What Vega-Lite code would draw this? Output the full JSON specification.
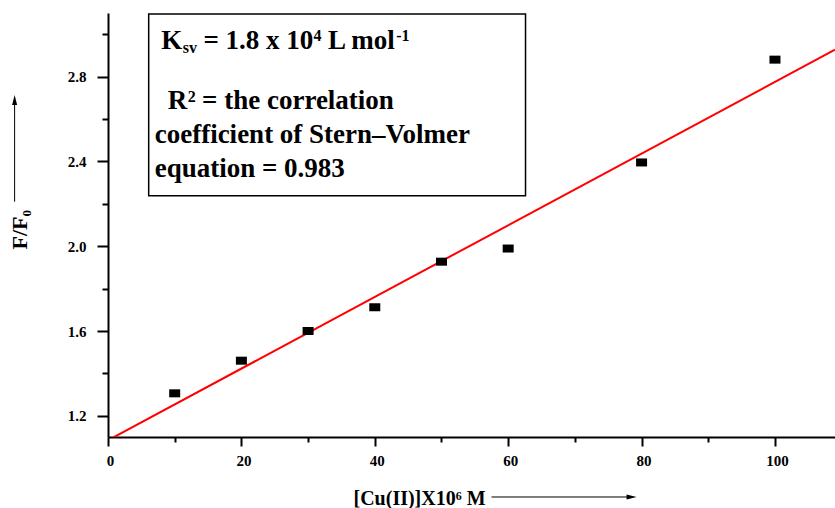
{
  "$schema": "https://vega.github.io/schema/vega-lite/v6.json",
  "width": 727,
  "height": 424,
  "autosize": {"type": "none"},
  "padding": {"left": 108, "top": 13, "right": 0, "bottom": 71},
  "background": "white",
  "config": {"view": {"stroke": null}, "font": "Liberation Serif"},
  "datasets": {
    "quench": [
      {"conc": 10, "ratio": 1.306},
      {"conc": 20, "ratio": 1.46},
      {"conc": 30, "ratio": 1.6},
      {"conc": 40, "ratio": 1.712},
      {"conc": 50, "ratio": 1.927},
      {"conc": 60, "ratio": 1.989},
      {"conc": 80, "ratio": 2.395},
      {"conc": 100, "ratio": 2.88}
    ]
  },
  "layer": [
    {
      "data": {"name": "quench"},
      "transform": [{"regression": "ratio", "on": "conc", "extent": [0, 109]}],
      "mark": {"type": "line", "color": "#ff0000", "strokeWidth": 2, "clip": true},
      "encoding": {
        "x": {
          "field": "conc", "type": "quantitative",
          "scale": {"domain": [0, 109], "nice": false, "zero": false},
          "axis": {
            "title": "[Cu(II)]X10⁶ M",
            "values": [0, 10, 20, 30, 40, 50, 60, 70, 80, 90, 100],
            "format": "d",
            "labelExpr": "datum.value % 20 == 0 ? datum.label : ''",
            "tickSize": {"condition": {"test": "datum.value % 20 == 0", "value": 9}, "value": 5},
            "grid": false,
            "domainColor": "black", "domainWidth": 2,
            "tickColor": "black", "tickWidth": 2,
            "labelFont": "Liberation Serif", "labelFontWeight": "bold", "labelFontSize": 15,
            "labelColor": "black", "labelPadding": 7, "labelFlush": false, "labelOverlap": false,
            "labelOffset": 2,
            "titleFont": "Liberation Serif", "titleFontWeight": "bold", "titleFontSize": 20,
            "titleColor": "black",
            "titleX": 245, "titleY": 67, "titleAlign": "left", "titleBaseline": "alphabetic"
          }
        },
        "y": {
          "field": "ratio", "type": "quantitative",
          "scale": {"domain": [1.1, 3.1], "nice": false, "zero": false},
          "axis": {
            "title": "F/F₀",
            "values": [1.2, 1.4, 1.6, 1.8, 2.0, 2.2, 2.4, 2.6, 2.8, 3.0],
            "format": ".1f",
            "labelExpr": "round(datum.value * 10) % 4 == 0 ? datum.label : ''",
            "tickSize": {"condition": {"test": "round(datum.value * 10) % 4 == 0", "value": 11}, "value": 6},
            "grid": false,
            "domainColor": "black", "domainWidth": 2,
            "tickColor": "black", "tickWidth": 2,
            "labelFont": "Liberation Serif", "labelFontWeight": "bold", "labelFontSize": 15,
            "labelColor": "black", "labelPadding": 11, "labelFlush": false, "labelOverlap": false,
            "titleFont": "Liberation Serif", "titleFontWeight": "bold", "titleFontSize": 22,
            "titleColor": "black",
            "titleAngle": 270,
            "titleX": -82, "titleY": 236, "titleAlign": "left", "titleBaseline": "alphabetic"
          }
        }
      }
    },
    {
      "data": {"name": "quench"},
      "mark": {"type": "point", "shape": "M-1,-0.727H1V0.727H-1Z", "size": 121, "filled": true, "color": "black", "opacity": 1},
      "encoding": {
        "x": {"field": "conc", "type": "quantitative"},
        "y": {"field": "ratio", "type": "quantitative"}
      }
    },
    {
      "data": {"values": [{}]},
      "mark": {"type": "rect", "filled": false, "color": "black", "strokeWidth": 1.5},
      "encoding": {"x": {"datum": 6.1}, "x2": {"datum": 62.6}, "y": {"datum": 3.095}, "y2": {"datum": 2.238}}
    },
    {
      "data": {"values": [{}]},
      "mark": {"type": "text", "text": "K", "font": "Liberation Serif", "fontWeight": "bold", "fontSize": 27, "align": "left", "baseline": "alphabetic", "color": "black"},
      "encoding": {"x": {"datum": 8.0}, "y": {"datum": 2.93}}
    },
    {
      "data": {"values": [{}]},
      "mark": {"type": "text", "text": "sv", "font": "Liberation Serif", "fontWeight": "bold", "fontSize": 16, "align": "left", "baseline": "alphabetic", "color": "black"},
      "encoding": {"x": {"datum": 11.2}, "y": {"datum": 2.911}}
    },
    {
      "data": {"values": [{}]},
      "mark": {"type": "text", "text": "= 1.8 x 10", "font": "Liberation Serif", "fontWeight": "bold", "fontSize": 27, "align": "left", "baseline": "alphabetic", "color": "black"},
      "encoding": {"x": {"datum": 14.3}, "y": {"datum": 2.93}}
    },
    {
      "data": {"values": [{}]},
      "mark": {"type": "text", "text": "4", "font": "Liberation Serif", "fontWeight": "bold", "fontSize": 16, "align": "left", "baseline": "alphabetic", "color": "black"},
      "encoding": {"x": {"datum": 30.8}, "y": {"datum": 2.9656}}
    },
    {
      "data": {"values": [{}]},
      "mark": {"type": "text", "text": "L mol", "font": "Liberation Serif", "fontWeight": "bold", "fontSize": 27, "align": "left", "baseline": "alphabetic", "color": "black"},
      "encoding": {"x": {"datum": 33.0}, "y": {"datum": 2.93}}
    },
    {
      "data": {"values": [{}]},
      "mark": {"type": "text", "text": "-1", "font": "Liberation Serif", "fontWeight": "bold", "fontSize": 16, "align": "left", "baseline": "alphabetic", "color": "black"},
      "encoding": {"x": {"datum": 43.2}, "y": {"datum": 2.9656}}
    },
    {
      "data": {"values": [{}]},
      "mark": {"type": "text", "text": "R", "font": "Liberation Serif", "fontWeight": "bold", "fontSize": 27, "align": "left", "baseline": "alphabetic", "color": "black"},
      "encoding": {"x": {"datum": 8.95}, "y": {"datum": 2.647}}
    },
    {
      "data": {"values": [{}]},
      "mark": {"type": "text", "text": "2", "font": "Liberation Serif", "fontWeight": "bold", "fontSize": 16, "align": "left", "baseline": "alphabetic", "color": "black"},
      "encoding": {"x": {"datum": 11.95}, "y": {"datum": 2.6825}}
    },
    {
      "data": {"values": [{}]},
      "mark": {"type": "text", "text": "= the correlation", "font": "Liberation Serif", "fontWeight": "bold", "fontSize": 27, "align": "left", "baseline": "alphabetic", "color": "black"},
      "encoding": {"x": {"datum": 14.1}, "y": {"datum": 2.647}}
    },
    {
      "data": {"values": [{}]},
      "mark": {"type": "text", "text": "coefficient of Stern–Volmer", "font": "Liberation Serif", "fontWeight": "bold", "fontSize": 27, "align": "left", "baseline": "alphabetic", "color": "black"},
      "encoding": {"x": {"datum": 7.0}, "y": {"datum": 2.4868}}
    },
    {
      "data": {"values": [{}]},
      "mark": {"type": "text", "text": "equation = 0.983", "font": "Liberation Serif", "fontWeight": "bold", "fontSize": 27, "align": "left", "baseline": "alphabetic", "color": "black"},
      "encoding": {"x": {"datum": 7.0}, "y": {"datum": 2.3264}}
    },
    {
      "data": {"values": [{}]},
      "mark": {"type": "rule", "color": "black", "strokeWidth": 1},
      "encoding": {"x": {"datum": -14.0}, "y": {"datum": 2.21}, "y2": {"datum": 2.69}}
    },
    {
      "data": {"values": [{}]},
      "mark": {"type": "point", "shape": "M0,-1L0.5,1L-0.5,1Z", "size": 100, "filled": true, "color": "black", "opacity": 1},
      "encoding": {"x": {"datum": -14.0}, "y": {"datum": 2.69}}
    },
    {
      "data": {"values": [{}]},
      "mark": {"type": "rule", "color": "black", "strokeWidth": 1},
      "encoding": {"x": {"datum": 57.5}, "x2": {"datum": 78.5}, "y": {"datum": 0.817}}
    },
    {
      "data": {"values": [{}]},
      "mark": {"type": "point", "shape": "M1,0L-1,0.5L-1,-0.5Z", "size": 100, "filled": true, "color": "black", "opacity": 1},
      "encoding": {"x": {"datum": 78.5}, "y": {"datum": 0.817}}
    }
  ]
}
